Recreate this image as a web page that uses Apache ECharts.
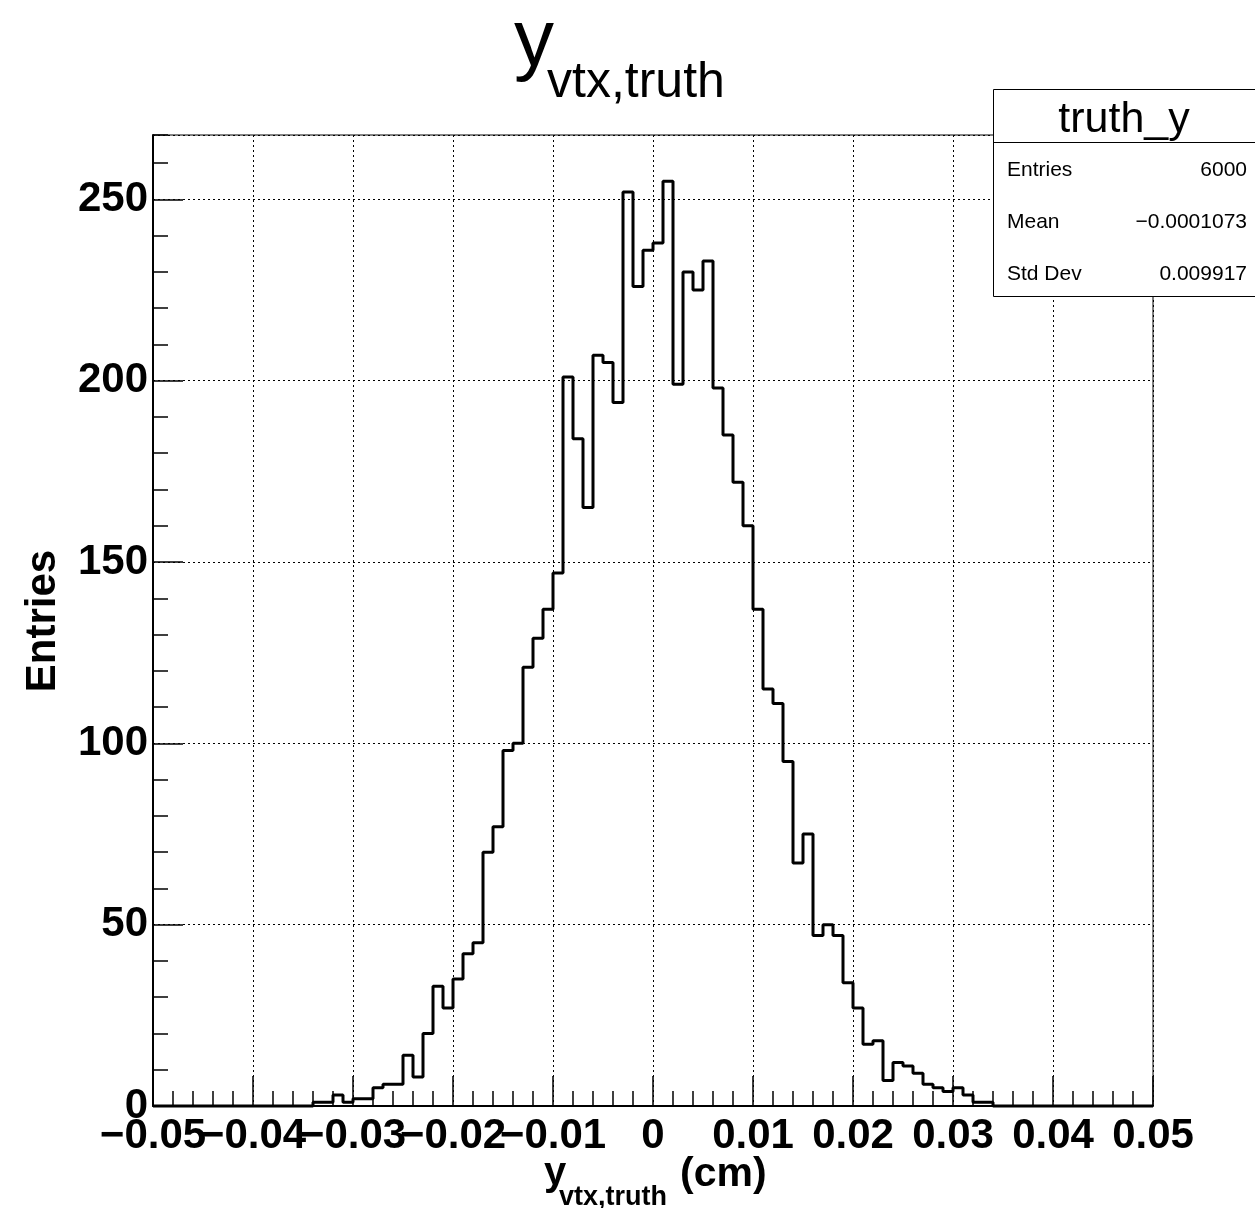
<!DOCTYPE html>
<html>
<head>
<meta charset="utf-8">
<title>truth_y</title>
<script src="https://cdn.jsdelivr.net/npm/echarts@6/dist/echarts.min.js"></script>
<style>
  html, body { margin: 0; padding: 0; background: #ffffff; }
  #chart { width: 1255px; height: 1208px; }
</style>
</head>
<body>
<div id="chart"></div>
<script>
// Histogram of the true vertex y position: 100 bins from -0.05 to 0.05 cm
const histName = 'truth_y';
const xMin = -0.05;
const xMax = 0.05;
const nBins = 100;
const binCounts = [
  0, 0, 0, 0, 0, 0, 0, 0, 0, 0,
  0, 0, 0, 0, 0, 0, 1, 1, 3, 1,
  2, 2, 5, 6, 6, 14, 8, 20, 33, 27,
  35, 42, 45, 70, 77, 98, 100, 121, 129, 137,
  147, 201, 184, 165, 207, 205, 194, 252, 226, 236,
  238, 255, 199, 230, 225, 233, 198, 185, 172, 160,
  137, 115, 111, 95, 67, 75, 47, 50, 47, 34,
  27, 17, 18, 7, 12, 11, 9, 6, 5, 4,
  5, 3, 1, 1, 0, 0, 0, 0, 0, 0,
  0, 0, 0, 0, 0, 0, 0, 0, 0, 0
];
const xTickStep = 0.01;
const yMajorStep = 50;
const yMinorStep = 10;
const statsLabels = ['Entries', 'Mean', 'Std Dev'];
const statsValues = ['6000', '\u22120.0001073', '0.009917'];
const titleMain = 'y';
const titleSub = 'vtx,truth';
const xTitleUnit = '(cm)';
const yTitle = 'Entries';

const FONT = '"Liberation Sans", Arial, Helvetica, sans-serif';

// step outline: one point per lower bin edge, closing at the upper edge
const binWidth = (xMax - xMin) / nBins;
const outline = binCounts.map((c, i) => [Number((xMin + i * binWidth).toFixed(6)), c]);
outline.push([xMax, 0]);

// ROOT-style headroom above the tallest bin
const yMax = Math.max.apply(null, binCounts) * 1.05;

function fmtX(v) {
  if (Math.abs(v) < 1e-9) return '0';
  return (v < 0 ? '\u2212' : '') + Math.abs(v).toFixed(2);
}

const chart = echarts.init(document.getElementById('chart'), null, { renderer: 'canvas' });

const tickStyle = { color: '#000', width: 1.5 };
const gridLine = { show: true, lineStyle: { color: '#000', width: 1, type: [2, 3] } };
const xLabelFont = { color: '#000', fontSize: 42, fontWeight: 'bold', fontFamily: FONT };

const option = {
  animation: false,
  backgroundColor: '#ffffff',
  textStyle: { fontFamily: FONT },
  grid: {
    left: 153, right: 102, top: 135, bottom: 102,
    show: true, borderColor: '#000', borderWidth: 1, backgroundColor: 'transparent'
  },
  xAxis: [
    {
      // main axis: line, ticks, grid and every label but the leftmost
      type: 'value', min: xMin, max: xMax, interval: xTickStep, position: 'bottom',
      axisLine: { show: true, onZero: false, lineStyle: { color: '#000', width: 2 } },
      axisTick: { show: true, inside: true, length: 30, lineStyle: tickStyle },
      minorTick: { show: true, splitNumber: 5, length: 15, lineStyle: tickStyle },
      splitLine: gridLine,
      axisLabel: Object.assign({
        show: true, margin: 9, showMinLabel: false, showMaxLabel: true, hideOverlap: false,
        formatter: fmtX
      }, xLabelFont)
    },
    {
      // overlay axis carrying the leftmost label, which touches its neighbour
      type: 'value', min: xMin, max: xMax, interval: xTickStep, position: 'bottom', offset: 0,
      axisLine: { show: false, onZero: false },
      axisTick: { show: false },
      minorTick: { show: false },
      splitLine: { show: false },
      axisLabel: Object.assign({
        show: true, margin: 9, showMinLabel: true, showMaxLabel: false, hideOverlap: false,
        formatter: v => (Math.abs(v - xMin) < 1e-9 ? fmtX(v) : '')
      }, xLabelFont)
    }
  ],
  yAxis: [
    {
      // fine ticks every 10 entries
      type: 'value', min: 0, max: yMax, interval: yMinorStep, position: 'left',
      axisLine: { show: true, onZero: false, lineStyle: { color: '#000', width: 2 } },
      axisTick: { show: true, inside: true, length: 15, lineStyle: tickStyle },
      splitLine: { show: false },
      axisLabel: { show: false }
    },
    {
      // labelled ticks and grid every 50 entries
      type: 'value', min: 0, max: yMax, interval: yMajorStep, position: 'left', offset: 0,
      axisLine: { show: false, onZero: false },
      axisTick: { show: true, inside: true, length: 30, lineStyle: tickStyle },
      splitLine: gridLine,
      axisLabel: {
        show: true, margin: 5, color: '#000', fontSize: 42, fontWeight: 'bold', fontFamily: FONT,
        showMinLabel: true, showMaxLabel: false, hideOverlap: false,
        formatter: v => (Math.abs(v % yMajorStep) < 1e-6 ? String(Math.round(v)) : '')
      }
    }
  ],
  series: [{
    name: histName,
    type: 'line',
    xAxisIndex: 0,
    yAxisIndex: 0,
    data: outline,
    step: 'end',
    symbol: 'none',
    showSymbol: false,
    clip: false,
    lineStyle: { color: '#000', width: 3 },
    z: 5
  }],
  graphic: [
    // main title
    { type: 'text', x: 514, y: 43, z: 50,
      style: { text: titleMain, fontSize: 80, fontFamily: FONT, fill: '#000', align: 'left', verticalAlign: 'middle' } },
    { type: 'text', x: 547, y: 83, z: 50,
      style: { text: titleSub, fontSize: 50, fontFamily: FONT, fill: '#000', align: 'left', verticalAlign: 'middle' } },
    // x axis title
    { type: 'text', x: 544, y: 1174, z: 50,
      style: { text: titleMain, fontSize: 40, fontWeight: 'bold', fontFamily: FONT, fill: '#000', align: 'left', verticalAlign: 'middle' } },
    { type: 'text', x: 559, y: 1198, z: 50,
      style: { text: titleSub, fontSize: 27, fontWeight: 'bold', fontFamily: FONT, fill: '#000', align: 'left', verticalAlign: 'middle' } },
    { type: 'text', x: 680, y: 1175, z: 50,
      style: { text: xTitleUnit, fontSize: 41, fontWeight: 'bold', fontFamily: FONT, fill: '#000', align: 'left', verticalAlign: 'middle' } },
    // y axis title
    { type: 'text', x: 43, y: 621, rotation: Math.PI / 2, z: 50,
      style: { text: yTitle, fontSize: 42, fontWeight: 'bold', fontFamily: FONT, fill: '#000', align: 'center', verticalAlign: 'middle' } },
    // statistics box
    { type: 'rect', z: 60, shape: { x: 993.5, y: 89.5, width: 300, height: 207 },
      style: { fill: '#fff', stroke: '#000', lineWidth: 1 } },
    { type: 'line', z: 61, shape: { x1: 993.5, y1: 142.5, x2: 1255, y2: 142.5 },
      style: { stroke: '#000', lineWidth: 1 } },
    { type: 'text', x: 1124, y: 120, z: 62,
      style: { text: histName, fontSize: 43, fontFamily: FONT, fill: '#000', align: 'center', verticalAlign: 'middle' } }
  ].concat(statsLabels.map((lab, i) => ({
    type: 'text', x: 1007, y: 170 + i * 52.2, z: 62,
    style: { text: lab, fontSize: 21, fontFamily: FONT, fill: '#000', align: 'left', verticalAlign: 'middle' }
  }))).concat(statsValues.map((val, i) => ({
    type: 'text', x: 1247, y: 170 + i * 52.2, z: 62,
    style: { text: val, fontSize: 21, fontFamily: FONT, fill: '#000', align: 'right', verticalAlign: 'middle' }
  })))
};

chart.setOption(option);
</script>
</body>
</html>
